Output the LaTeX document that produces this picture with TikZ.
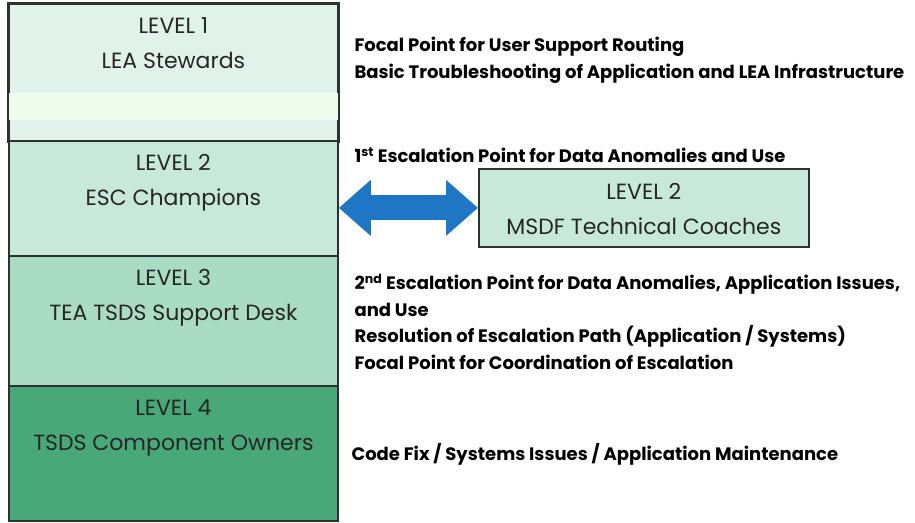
\documentclass[tikz,border=0pt]{standalone}
\usepackage{fontspec}
\setmainfont{Poppins}
\usepackage{tikz}
\usetikzlibrary{arrows.meta,positioning}
\definecolor{lvlone}{RGB}{224,242,234}
\definecolor{lvlband}{RGB}{238,252,238}
\definecolor{lvltwo}{RGB}{200,232,218}
\definecolor{lvlthree}{RGB}{170,220,196}
\definecolor{lvlfour}{RGB}{72,168,122}
\definecolor{edgegray}{RGB}{45,50,48}
\definecolor{arrowblue}{RGB}{30,118,196}

\begin{document}
\begin{tikzpicture}[
  x=1pt, y=-1pt,
  node distance=6pt,
  lvlbox/.style={draw=edgegray, line width=1.8pt, minimum width=329pt, anchor=north west, inner sep=0pt},
  lvltext/.style={align=center, font=\fontsize{22}{35}\selectfont, text=black!85},
  note/.style={anchor=west, align=left, font=\fontsize{18}{26.5}\selectfont\bfseries},
  biarr/.style={line width=25pt, draw=arrowblue, {Triangle[length=32pt 0,width=54pt 0]}-{Triangle[length=32pt 0,width=54pt 0]}}
]
\useasboundingbox (0,0) rectangle (915,522);
% level boxes
\node[lvlbox, fill=lvlone, minimum height=137pt] (l1) at (8,3) {};
\fill[lvlband] ([xshift=1pt]l1.west |- 0,93) rectangle ([xshift=-1pt]l1.east |- 0,120);
\draw[edgegray, line width=1.8pt] (l1.north west) rectangle (l1.south east);
\node[lvlbox, fill=lvltwo, minimum height=115pt] (l2) at (8,140) {};
\node[lvlbox, fill=lvlthree, minimum height=130pt] (l3) at (8,255) {};
\node[lvlbox, fill=lvlfour, minimum height=135pt] (l4) at (8,385) {};
\node[lvltext, below=11.5pt of l1.north] (l1t) {LEVEL 1\\LEA Stewards};
\node[lvltext, below=11pt of l2.north] (l2t) {LEVEL 2\\ESC Champions};
\node[lvltext, below=11pt of l3.north] (l3t) {LEVEL 3\\TEA TSDS Support Desk};
\node[lvltext, below=11pt of l4.north] (l4t) {LEVEL 4\\TSDS Component Owners};
% second level 2 box
\node[lvlbox, fill=lvltwo, minimum width=330pt, minimum height=78pt] (msdf) at (478,168) {};
\node[lvltext, below=12pt of msdf.north] (msdft) {LEVEL 2\\MSDF Technical Coaches};
\draw[biarr] (l2.east |- msdf.west) -- (msdf.west);
% notes
\node[note] (n1) at (351,60.5) {Focal Point for User Support Routing\\Basic Troubleshooting of Application and LEA Infrastructure};
\node[note] (n2) at (351,155) {1\textsuperscript{st} Escalation Point for Data Anomalies and Use};
\node[note] (n3) at (351,322) {2\textsuperscript{nd} Escalation Point for Data Anomalies, Application Issues,\\and Use\\Resolution of Escalation Path (Application / Systems)\\Focal Point for Coordination of Escalation};
\node[note] (n4) at (348,454) {Code Fix / Systems Issues / Application Maintenance};
\end{tikzpicture}
\end{document}
